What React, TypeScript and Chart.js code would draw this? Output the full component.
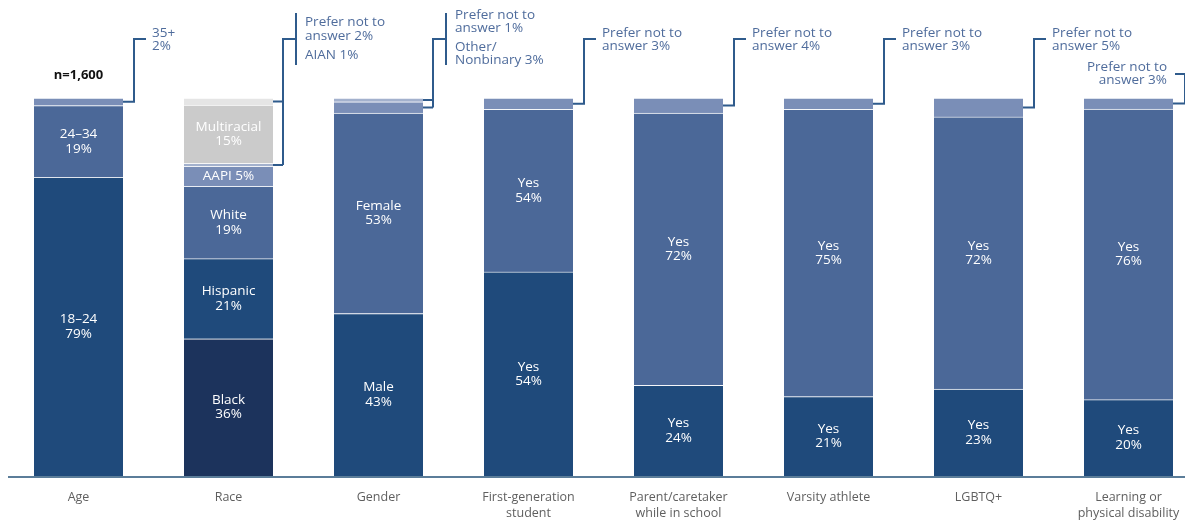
import React, { useEffect, useRef } from "react";
import { Chart, registerables } from "chart.js";
Chart.register(...registerables);

// ---------- data ----------
const categories = [
  ["Age"],
  ["Race"],
  ["Gender"],
  ["First-generation", "student"],
  ["Parent/caretaker", "while in school"],
  ["Varsity athlete"],
  ["LGBTQ+"],
  ["Learning or", "physical disability"],
];

// segment values, bottom to top (percent of respondents)
const ageValues = [79, 19, 2];
const raceValues = [36.3, 21.2, 19.1, 5.3, 0.8, 15.4, 1.9];
const genderValues = [43, 53, 3, 1];
const firstGenValues = [54, 43, 3];
const parentValues = [24, 72, 4];
const varsityValues = [21, 76, 3];
const lgbtqValues = [23, 72, 5];
const disabilityValues = [20.2, 76.9, 2.9];

// in-bar labels, bottom to top
const ageLabels = [["18–24", "79%"], ["24–34", "19%"], []];
const raceLabels = [["Black", "36%"], ["Hispanic", "21%"], ["White", "19%"], ["AAPI 5%"], [], ["Multiracial", "15%"], []];
const genderLabels = [["Male", "43%"], ["Female", "53%"], [], []];
const firstGenLabels = [["Yes", "54%"], ["Yes", "54%"], []];
const parentLabels = [["Yes", "24%"], ["Yes", "72%"], []];
const varsityLabels = [["Yes", "21%"], ["Yes", "75%"], []];
const lgbtqLabels = [["Yes", "23%"], ["Yes", "72%"], []];
const disabilityLabels = [["Yes", "20%"], ["Yes", "76%"], []];

// call-out texts
const ageCallout = ["35+", "2%"];
const raceCallout = ["Prefer not to", "answer 2%", "AIAN 1%"];
const genderCallout = ["Prefer not to", "answer 1%", "Other/", "Nonbinary 3%"];
const firstGenCallout = ["Prefer not to", "answer 3%"];
const parentCallout = ["Prefer not to", "answer 4%"];
const varsityCallout = ["Prefer not to", "answer 3%"];
const lgbtqCallout = ["Prefer not to", "answer 5%"];
const disabilityCallout = ["Prefer not to", "answer 3%"];

const sampleNote = "n=1,600";

// ---------- styles ----------
const NAVY = "#1c335c";
const DARK = "#1f4a7b";
const MED = "#4b6898";
const LIGHT = "#7a8eb7";
const PALE = "#a3b1cd";
const GRAY = "#cbcbcb";
const LGRAY = "#e5e5e5";
const LINE = "#2f5b8c";
const NOTE = "#4f6c9c";
const AXIS = "#5b7d99";
const FONT = "'Open Sans', sans-serif";

const ageColors = [DARK, MED, LIGHT];
const raceColors = [NAVY, DARK, MED, LIGHT, PALE, GRAY, LGRAY];
const genderColors = [DARK, MED, LIGHT, PALE];
const ynColors = [DARK, MED, LIGHT];

type Bar = {
  values: number[];
  colors: string[];
  labels: string[][];
  callout: string[];
  kind: "single" | "group" | "left";
  sources: number[];
  lineOffsets?: number[];
};

const bars: Bar[] = [
  { values: ageValues, colors: ageColors, labels: ageLabels, callout: ageCallout, kind: "single", sources: [2] },
  { values: raceValues, colors: raceColors, labels: raceLabels, callout: raceCallout, kind: "group", sources: [6, 4], lineOffsets: [-76, -62, -43] },
  { values: genderValues, colors: genderColors, labels: genderLabels, callout: genderCallout, kind: "group", sources: [3, 2], lineOffsets: [-83, -70, -51, -38] },
  { values: firstGenValues, colors: ynColors, labels: firstGenLabels, callout: firstGenCallout, kind: "single", sources: [2] },
  { values: parentValues, colors: ynColors, labels: parentLabels, callout: parentCallout, kind: "single", sources: [2] },
  { values: varsityValues, colors: ynColors, labels: varsityLabels, callout: varsityCallout, kind: "single", sources: [2] },
  { values: lgbtqValues, colors: ynColors, labels: lgbtqLabels, callout: lgbtqCallout, kind: "single", sources: [2] },
  { values: disabilityValues, colors: ynColors, labels: disabilityLabels, callout: disabilityCallout, kind: "left", sources: [2] },
];

const LEVELS = Math.max(...bars.map((b) => b.values.length));

const overlayPlugin = {
  id: "overlay",
  afterDatasetsDraw(chart: any) {
    const ctx = chart.ctx as CanvasRenderingContext2D;
    const area = chart.chartArea;
    const top = area.top;
    ctx.save();

    // axis line
    ctx.strokeStyle = AXIS;
    ctx.lineWidth = 2;
    ctx.beginPath();
    ctx.moveTo(0, area.bottom + 1);
    ctx.lineTo(chart.width, area.bottom + 1);
    ctx.stroke();

    // in-bar labels
    ctx.fillStyle = "#ffffff";
    ctx.font = `13.5px ${FONT}`;
    ctx.textAlign = "center";
    ctx.textBaseline = "middle";
    for (let L = 0; L < LEVELS; L++) {
      const meta = chart.getDatasetMeta(L);
      meta.data.forEach((el: any, j: number) => {
        const lines = bars[j].labels[L];
        if (!lines || !lines.length) return;
        const cy = (el.y + el.base) / 2;
        const lh = 14.5;
        lines.forEach((t: string, k: number) => {
          ctx.fillText(t, el.x, cy + (k - (lines.length - 1) / 2) * lh);
        });
      });
    }

    // n=1,600 note
    const first = chart.getDatasetMeta(0).data[0];
    ctx.fillStyle = "#111111";
    ctx.font = `bold 13px ${FONT}`;
    ctx.fillText(sampleNote, first.x, top - 23);

    // call-outs
    ctx.strokeStyle = LINE;
    ctx.lineWidth = 2;
    ctx.font = `13.5px ${FONT}`;
    ctx.fillStyle = NOTE;
    ctx.textBaseline = "middle";
    const segY = (j: number, L: number) => {
      const el = chart.getDatasetMeta(L).data[j];
      return (el.y + el.base) / 2;
    };
    bars.forEach((b, j) => {
      const el = chart.getDatasetMeta(0).data[j];
      const R = el.x + el.width / 2;
      const bracketTop = top - 59;
      if (b.kind === "single") {
        const y0 = segY(j, b.sources[0]);
        ctx.beginPath();
        ctx.moveTo(R, y0);
        ctx.lineTo(R + 11, y0);
        ctx.lineTo(R + 11, bracketTop);
        ctx.lineTo(R + 23, bracketTop);
        ctx.stroke();
        ctx.textAlign = "left";
        b.callout.forEach((t, k) => ctx.fillText(t, R + 29, top - 65 + k * 13));
      } else if (b.kind === "group") {
        const ys = b.sources.map((L) => segY(j, L));
        const low = Math.max(...ys);
        ctx.beginPath();
        ys.forEach((y) => {
          ctx.moveTo(R, y);
          ctx.lineTo(R + 10, y);
        });
        ctx.moveTo(R + 10, low);
        ctx.lineTo(R + 10, bracketTop);
        ctx.lineTo(R + 23, bracketTop);
        ctx.moveTo(R + 23, top - 85);
        ctx.lineTo(R + 23, top - 33);
        ctx.stroke();
        ctx.textAlign = "left";
        b.callout.forEach((t, k) => ctx.fillText(t, R + 32, top + (b.lineOffsets as number[])[k]));
      } else {
        const y0 = segY(j, b.sources[0]);
        const yT = top - 24;
        ctx.beginPath();
        ctx.moveTo(R, y0);
        ctx.lineTo(R + 12, y0);
        ctx.lineTo(R + 12, yT);
        ctx.lineTo(R + 2, yT);
        ctx.stroke();
        ctx.textAlign = "right";
        b.callout.forEach((t, k) => ctx.fillText(t, R - 6, top - 31 + k * 13));
      }
    });
    ctx.restore();
  },
};

export default function App() {
  const canvasRef = useRef<HTMLCanvasElement | null>(null);

  useEffect(() => {
    if (!canvasRef.current) return;
    const datasets = [];
    for (let L = 0; L < LEVELS; L++) {
      datasets.push({
        label: `level ${L}`,
        data: bars.map((b) => (b.values[L] === undefined ? null : b.values[L])),
        backgroundColor: bars.map((b) => b.colors[L] || "transparent"),
        borderColor: "rgba(255,255,255,0.55)",
        borderWidth: { top: 1, left: 0, right: 0, bottom: 0 },
        borderSkipped: false,
        barThickness: 89,
        clip: false,
      });
    }
    const chart = new Chart(canvasRef.current, {
      type: "bar",
      data: { labels: categories, datasets: datasets as any },
      options: {
        animation: false,
        responsive: true,
        maintainAspectRatio: false,
        layout: { padding: { top: 90, left: 70.5, right: 56.5, bottom: -14.5 } },
        plugins: { legend: { display: false }, tooltip: { enabled: false } },
        scales: {
          x: {
            type: "category",
            stacked: true,
            offset: false,
            grid: { display: false, drawTicks: false },
            border: { display: false },
            afterFit: (scale: any) => {
              scale.paddingLeft = 0;
              scale.paddingRight = 0;
            },
            ticks: {
              color: "#5f5f5f",
              font: { family: FONT, size: 12.5, lineHeight: 1.3 },
              padding: 13,
              maxRotation: 0,
              minRotation: 0,
              autoSkip: false,
            },
          },
          y: {
            stacked: true,
            min: 0,
            max: 100,
            display: false,
          },
        },
      },
      plugins: [overlayPlugin],
    });
    return () => chart.destroy();
  }, []);

  return (
    <div style={{ width: "100%", height: 512, position: "relative" }}>
      <canvas ref={canvasRef} />
    </div>
  );
}
